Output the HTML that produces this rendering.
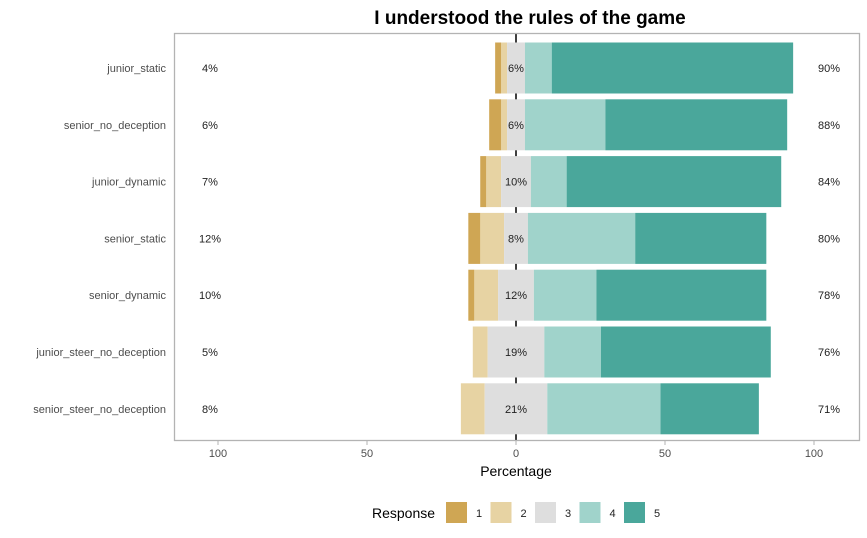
<!DOCTYPE html>
<html><head><meta charset="utf-8"><style>
body{margin:0;background:#fff;}
svg{display:block;font-family:"Liberation Sans",Arial,sans-serif;}
</style></head><body>
<svg id="chart" width="867" height="538"></svg>
<script>
const categories = ["junior_static","senior_no_deception","junior_dynamic","senior_static","senior_dynamic","junior_steer_no_deception","senior_steer_no_deception"];
const r1 = [2,4,2,4,2,0,0];
const r2 = [2,2,5,8,8,5,8];
const r3 = [6,6,10,8,12,19,21];
const r4 = [9,27,12,36,21,19,38];
const r5 = [81,61,72,44,57,57,33];
const leftLabels = ["4%","6%","7%","12%","10%","5%","8%"];
const midLabels = ["6%","6%","10%","8%","12%","19%","21%"];
const rightLabels = ["90%","88%","84%","80%","78%","76%","71%"];
const ticks = [-100,-50,0,50,100];
const tickLabels = ["100","50","0","50","100"];
const colors = ["#CFA654","#E7D3A3","#DEDEDE","#A0D3CB","#4AA79B"];
const legendLabels = ["1","2","3","4","5"];

const svg = document.getElementById('chart');
const NS = "http://www.w3.org/2000/svg";
function el(tag, attrs, parent){const e=document.createElementNS(NS,tag);for(const k in attrs)e.setAttribute(k,attrs[k]);(parent||svg).appendChild(e);return e;}
const x = v => 516 + v*2.98;
const rowY = i => 68 + i*56.8;
const barH = 51;

let t = el('text',{x:530,y:24,'text-anchor':'middle','font-size':19,'font-weight':'bold',fill:'#000'});
t.textContent="I understood the rules of the game";



ticks.forEach(v=>{
  const g = el('line',{x1:x(v),x2:x(v),y1:33,y2:440,stroke:'#FFFFFF','stroke-width':1});
  
  
});
const z = el('line',{x1:x(0),x2:x(0),y1:33,y2:440,stroke:'#000','stroke-width':1.5});



categories.forEach((c,i)=>{
  const cy = rowY(i), y0 = cy - barH/2;
  let neg = -r3[i]/2;
  const segs = [];
  segs.push([neg - r2[i], r2[i], 1]);
  segs.push([neg - r2[i] - r1[i], r1[i], 0]);
  segs.push([neg, r3[i], 2]);
  segs.push([r3[i]/2, r4[i], 3]);
  segs.push([r3[i]/2 + r4[i], r5[i], 4]);
  segs.forEach(s=>{
    if(s[1]<=0) return;
    const r = el('rect',{x:x(s[0]),y:y0,width:s[1]*2.98,height:barH,fill:colors[s[2]]});
    
    
  });
  const lab = el('text',{x:166,y:cy+4,'text-anchor':'end','font-size':11,fill:'#4D4D4D'});
  lab.textContent=c;
  
  
  const l = el('text',{x:210,y:cy+4,'text-anchor':'middle','font-size':11,fill:'#222'});
  l.textContent=leftLabels[i];
  
  
  const m = el('text',{x:x(0),y:cy+4,'text-anchor':'middle','font-size':11,fill:'#222'});
  m.textContent=midLabels[i];
  
  
  const rr = el('text',{x:829,y:cy+4,'text-anchor':'middle','font-size':11,fill:'#222'});
  rr.textContent=rightLabels[i];
  
  
});

const border = el('rect',{x:174.5,y:33.5,width:685,height:407,fill:'none',stroke:'#B3B3B3','stroke-width':1.3});



ticks.forEach((v,i)=>{
  const tk = el('line',{x1:x(v),x2:x(v),y1:441,y2:445,stroke:'#B3B3B3'});
  
  
  const tl = el('text',{x:x(v),y:457,'text-anchor':'middle','font-size':11,fill:'#4D4D4D'});
  tl.textContent=tickLabels[i];
  
  
});
const xt = el('text',{x:516,y:476,'text-anchor':'middle','font-size':14,fill:'#000'});
xt.textContent="Percentage";



const lt = el('text',{x:372,y:518,'font-size':14,fill:'#000'});
lt.textContent="Response";


legendLabels.forEach((lbl,i)=>{
  const lx = 446 + i*44.5;
  const sw = el('rect',{x:lx,y:502,width:21,height:21,fill:colors[i]});
  
  
  const tx = el('text',{x:lx+30,y:517,'font-size':11,fill:'#222'});
  tx.textContent=lbl;
  
  
});
</script>
</body></html>
